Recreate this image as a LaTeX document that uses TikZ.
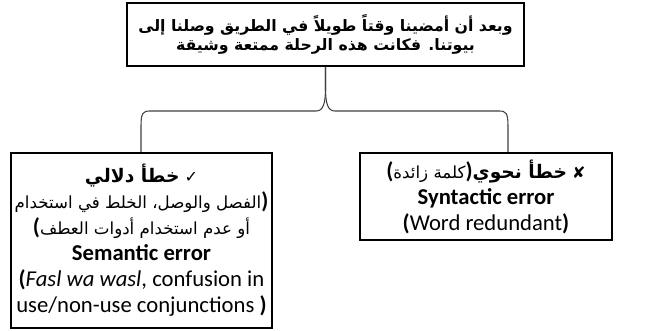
\documentclass[tikz,border=0pt]{standalone}
\usepackage{fontspec}
\TeXXeTstate=1
\setmainfont{Carlito}
\newfontfamily\arabicfont[Script=Arabic]{DejaVu Sans}
\newfontfamily\symfont{DejaVu Sans}
\newcommand\bp[1]{{\bfseries #1}}
\newcommand\arreg{\arabicfont\fontsize{12.5}{12.5}\selectfont}
\newcommand\arbold{\arabicfont\bfseries\fontsize{14}{14}\selectfont}

\begin{document}
\begin{tikzpicture}[x=0.75pt, y=-0.75pt,
  box/.style={draw, line width=1.5pt, inner sep=0pt, align=center,
    font=\fontsize{17}{19.5}\selectfont},
  brace/.style={draw=black!75, line width=0.8pt}]
\useasboundingbox (0,0) rectangle (646,331);

\node[box, minimum width=297.75pt, minimum height=47.25pt,
  font=\arabicfont\bfseries\fontsize{11.8}{14.5}\selectfont] (top) at (325.5,34.5)
  {\beginR وبعد أن أمضينا وقتاً طويلاً في الطريق وصلنا إلى\endR\\
   \beginR بيوتنا. فكانت هذه الرحلة ممتعة وشيقة\endR};

% parentheses inside right-to-left lines are written mirrored
\node[box, minimum width=195.75pt, minimum height=131.25pt] (sem) at (141.5,240.5)
  {\beginR{\symfont\fontsize{12}{12}\selectfont ✓} {\arbold خطأ دلالي}\endR\\
   \beginR\bp{)}{\arreg الفصل والوصل، الخلط في استخدام}\endR\\
   \beginR{\arreg أو عدم استخدام أدوات العطف}\bp{(}\endR\\
   \bp{Semantic error}\\
   \bp{(}\textit{Fasl wa wasl}, confusion in\\
   use/non-use conjunctions \bp{)}};

\node[box, minimum width=189pt, minimum height=65.25pt] (syn) at (486,196.5)
  {\beginR{\symfont\fontsize{12}{12}\selectfont ✘} {\arbold خطأ نحوي}\bp{)}{\arreg كلمة زائدة}\bp{(}\endR\\
   \bp{Syntactic error}\\
   \bp{(}Word redundant\bp{)}};

% curly brace from the top box down to both boxes
\coordinate (lleg) at (141,0);
\coordinate (rleg) at (508,0);
\draw[brace] (sem.north -| lleg) -- (141,126) .. controls (141,113) and (143,111) .. (150,111)
  -- (316,111) .. controls (323,111) and (325.5,104) .. (325.5,88) -- (top.south);
\draw[brace] (syn.north -| rleg) -- (508,126) .. controls (508,113) and (506,111) .. (499,111)
  -- (335,111) .. controls (328,111) and (325.5,104) .. (325.5,88) -- (top.south);
\end{tikzpicture}
\end{document}
